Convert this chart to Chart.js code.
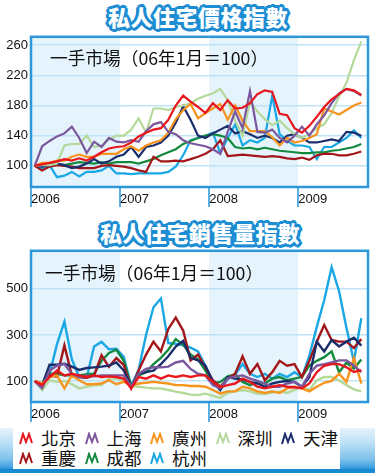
<!DOCTYPE html>
<html>
<head>
<meta charset="utf-8">
<script src="https://cdn.jsdelivr.net/npm/chart.js@4.4.1/dist/chart.umd.min.js"></script>
<style>
  html, body { margin: 0; padding: 0; background: #fff; }
  body { width: 375px; height: 473px; position: relative; overflow: hidden; font-family: "Liberation Sans", Arial, sans-serif; }
  .titulo {
    position: absolute; height: 26px; line-height: 26px; white-space: nowrap;
    font: 900 22px "Noto Sans CJK TC", sans-serif; color: #fff;
    text-shadow: 2px 0 #1c8dd3, -2px 0 #1c8dd3, 0 2px #1c8dd3, 0 -2px #1c8dd3,
      2px 2px #1c8dd3, -2px 2px #1c8dd3, 2px -2px #1c8dd3, -2px -2px #1c8dd3,
      3px 0 #1c8dd3, -3px 0 #1c8dd3, 0 3px #1c8dd3, 0 -3px #1c8dd3,
      3px 1px #1c8dd3, -3px 1px #1c8dd3, 1px 3px #1c8dd3, 1px -3px #1c8dd3;
  }
  #t1 { left: 108px; top: 0px; letter-spacing: 0.5px; }
  #t2 { left: 100px; top: 216px; letter-spacing: 0.2px; }
  canvas { position: absolute; left: 0; }
  #grafPrecio { top: 26px; }
  #grafVentas { top: 240px; }
  .fondo {
    position: absolute; left: 0; top: 428px; width: 375px; height: 45px;
    background: linear-gradient(#e6f3fb 0%, #b9dff5 35%, #7cc0ec 70%, #3d9fe0 88%, #1a8bd3 92%, #1a8bd3 100%);
  }
  .leyenda {
    position: absolute; left: 13px; top: 428px; width: 327px; height: 41px; background: #fff;
  }
  .item { position: absolute; height: 20px; display: flex; align-items: center; }
  .item canvas { position: static; margin-right: 7px; }
  .item span { font: 17.5px "Noto Sans CJK TC", sans-serif; color: #111; line-height: 20px; }
</style>
</head>
<body>
<div class="titulo" id="t1">私人住宅價格指數</div>
<div class="titulo" id="t2">私人住宅銷售量指數</div>
<canvas id="grafPrecio" width="375" height="187"></canvas>
<canvas id="grafVentas" width="375" height="184"></canvas>
<div class="fondo"></div>
<div class="leyenda" id="leyenda"></div>
<script>
const ciudades = ["北京", "上海", "廣州", "深圳", "天津", "重慶", "成都", "杭州"];
const colores = ["#e8161d", "#7b579d", "#f7941e", "#b4d99b", "#1b2d6b", "#a3171b", "#138a3e", "#1aa7e5"];
const anios = ["2006", "2007", "2008", "2009"];
const nota = "一手市場（06年1月＝100）";
const ticksPrecio = [100, 140, 180, 220, 260];
const ticksVentas = [100, 300, 500];

// 價格指數 (ene 2006 - sep 2009, mensual)
const precioBeijing = [100,102,104,106,109,107,110,107,112,118,123,125,126,131,139,144,148,150,161,180,193,185,178,170,183,174,187,176,177,183,195,200,198,169,167,150,144,153,165,178,188,195,202,200,194];
const precioShanghai = [100,126,133,139,143,152,137,117,132,125,137,132,131,134,132,146,155,158,145,142,134,130,128,126,122,116,145,172,150,199,145,144,148,137,131,140,152,140,155,167,183,196,202,199,193];
const precioGuangzhou = [100,104,104,107,107,112,115,112,112,116,116,116,122,126,120,127,131,134,144,162,174,182,163,170,176,182,161,180,160,146,146,146,138,127,137,131,133,137,142,176,172,168,174,180,184];
const precioShenzhen = [100,101,101,103,127,129,129,140,125,127,135,140,140,148,163,144,176,176,174,178,180,183,189,193,196,202,187,160,140,185,172,162,154,160,150,142,137,142,150,155,170,192,210,240,265];
const precioTianjin = [100,99,101,103,101,97,99,103,109,103,106,112,115,125,112,125,127,131,140,157,179,161,140,137,143,148,153,143,146,142,137,140,137,131,140,142,137,131,131,133,135,133,145,144,140];
const precioChongqing = [100,94,99,101,100,99,97,97,97,100,101,100,99,97,94,92,112,106,106,107,106,109,112,116,122,134,113,114,115,114,113,112,113,112,110,109,111,108,114,116,116,114,114,116,119];
const precioChengdu = [100,100,101,103,101,103,105,104,103,105,103,105,105,105,103,106,109,114,118,122,129,133,137,140,142,140,137,125,123,124,122,124,122,120,119,118,117,117,118,118,120,121,123,125,129];
const precioHangzhou = [100,97,101,85,87,92,86,92,92,94,100,90,90,89,90,90,90,90,92,99,114,134,137,140,144,117,137,155,127,134,131,137,193,142,133,127,127,125,109,125,125,131,137,147,137];

// 銷售量指數
const ventasBeijing = [100,83,118,146,125,132,125,118,125,118,121,118,111,69,118,111,125,111,125,118,125,118,125,125,97,74,83,90,111,97,76,69,76,83,76,74,69,90,139,167,174,174,160,140,148];
const ventasShanghai = [100,70,146,167,174,132,118,125,121,125,125,125,125,76,132,153,160,160,163,181,188,153,132,125,83,69,111,121,125,111,101,90,76,76,90,97,76,132,167,174,181,190,190,167,139];
const ventasGuangzhou = [100,90,118,125,69,125,104,87,87,90,104,87,97,83,90,93,97,93,90,83,83,79,79,76,62,46,56,56,76,69,56,49,56,49,69,76,69,56,76,93,101,132,97,201,90];
const ventasShenzhen = [100,62,104,97,101,87,69,76,83,83,111,111,104,79,76,72,69,69,62,55,49,42,40,46,37,28,49,56,62,56,46,46,51,56,49,62,76,62,104,118,118,104,83,65,56];
const ventasTianjin = [100,83,171,171,176,163,149,157,160,163,167,181,146,76,132,139,146,174,208,250,274,201,190,167,97,62,118,111,107,97,90,76,90,97,101,97,76,118,271,229,278,250,271,288,254];
const ventasChongqing = [100,88,125,120,255,125,118,115,125,212,162,200,170,70,146,215,271,229,326,375,319,190,215,160,104,76,111,132,208,132,174,104,139,188,167,174,118,188,271,343,278,271,271,243,282];
const ventasChengdu = [100,90,132,132,125,125,125,130,132,188,222,236,188,76,125,139,174,201,236,282,257,215,194,146,90,97,121,129,97,83,97,90,111,118,104,111,118,167,188,204,229,139,180,155,194];
const ventasHangzhou = [100,85,130,260,357,195,118,115,250,270,238,240,205,80,150,300,420,458,265,262,255,245,229,167,97,62,111,129,174,132,118,132,111,132,118,139,118,210,335,450,593,490,330,185,372];

const seriesPrecio = [precioBeijing, precioShanghai, precioGuangzhou, precioShenzhen, precioTianjin, precioChongqing, precioChengdu, precioHangzhou];
const seriesVentas = [ventasBeijing, ventasShanghai, ventasGuangzhou, ventasShenzhen, ventasTianjin, ventasChongqing, ventasChengdu, ventasHangzhou];

const marcoPlugin = {
  id: "marco",
  beforeDraw(chart) {
    const { ctx, chartArea: a, scales: { x } } = chart;
    ctx.save();
    ctx.fillStyle = "#e4f3fc";
    [0, 24].forEach(ini => {
      const x0 = x.getPixelForValue(ini);
      const x1 = x.getPixelForValue(ini + 12);
      ctx.fillRect(x0, a.top, x1 - x0, a.bottom - a.top);
    });
    ctx.restore();
  },
  beforeDatasetsDraw(chart, args, opts) {
    const { ctx, chartArea: a } = chart;
    ctx.save();
    ctx.fillStyle = "#111";
    ctx.font = '17.7px "Noto Sans CJK TC"';
    ctx.textBaseline = "middle";
    ctx.fillText(nota, a.left + opts.dx, a.top + opts.dy);
    ctx.restore();
  },
  afterDraw(chart) {
    const { ctx, chartArea: a } = chart;
    ctx.save();
    ctx.strokeStyle = "#2c98da";
    ctx.lineWidth = 2.5;
    ctx.strokeRect(a.left, a.top, a.right - a.left, a.bottom - a.top);
    ctx.restore();
  }
};

function crearGrafico(id, series, min, max, marcas, altoX, pos, grosor) {
  return new Chart(document.getElementById(id), {
    type: "line",
    data: {
      datasets: ciudades.map((c, k) => ({
        label: c,
        data: series[k].map((v, i) => ({ x: i + 0.5, y: v })),
        borderColor: colores[k],
        borderWidth: grosor,
        pointRadius: 0,
        tension: 0,
        fill: false
      }))
    },
    options: {
      responsive: false,
      animation: false,
      devicePixelRatio: 1,
      layout: { padding: { top: 5, right: 7, left: 0, bottom: 0 } },
      plugins: { legend: { display: false }, tooltip: { enabled: false }, marco: pos },
      scales: {
        x: {
          type: "linear", min: 0, max: 45.4,
          afterBuildTicks: s => { s.ticks = [0, 12, 24, 36].map(v => ({ value: v })); },
          afterFit: s => { s.height = altoX; },
          grid: { drawOnChartArea: false, drawTicks: true, tickLength: 20, color: "#5aaee3", lineWidth: 2 },
          border: { display: false },
          ticks: {
            align: "start", padding: -15, color: "#111", autoSkip: false, maxRotation: 0,
            font: { size: 13, family: "Liberation Sans" },
            callback: (v, i) => anios[i]
          }
        },
        y: {
          min: min, max: max,
          afterBuildTicks: s => { s.ticks = marcas.map(v => ({ value: v })); },
          afterFit: s => { s.width = 31; },
          grid: { color: "#c0e3f7", lineWidth: 1.5, drawTicks: false },
          border: { display: false },
          ticks: { padding: 3, color: "#111", font: { size: 13, family: "Liberation Sans" } }
        }
      }
    },
    plugins: [marcoPlugin]
  });
}

crearGrafico("grafPrecio", seriesPrecio, 72, 271, ticksPrecio, 26, { dx: 19, dy: 21 }, 2.2);
crearGrafico("grafVentas", seriesVentas, 10, 664, ticksVentas, 22, { dx: 14, dy: 22 }, 2.4);

// leyenda
const leyenda = document.getElementById("leyenda");
ciudades.forEach((c, k) => {
  const item = document.createElement("div");
  item.className = "item";
  item.style.left = (6 + (k % 5) * 65.5) + "px";
  item.style.top = (k < 5 ? 0 : 20) + "px";
  const ic = document.createElement("canvas");
  ic.width = 15; ic.height = 13;
  const g = ic.getContext("2d");
  g.strokeStyle = colores[k];
  g.lineWidth = 2;
  g.lineJoin = "miter";
  g.beginPath();
  g.moveTo(1, 12); g.lineTo(4, 2); g.lineTo(7, 10); g.lineTo(10, 2); g.lineTo(13, 11);
  g.stroke();
  const t = document.createElement("span");
  t.textContent = c;
  item.appendChild(ic);
  item.appendChild(t);
  leyenda.appendChild(item);
});
</script>
</body>
</html>
